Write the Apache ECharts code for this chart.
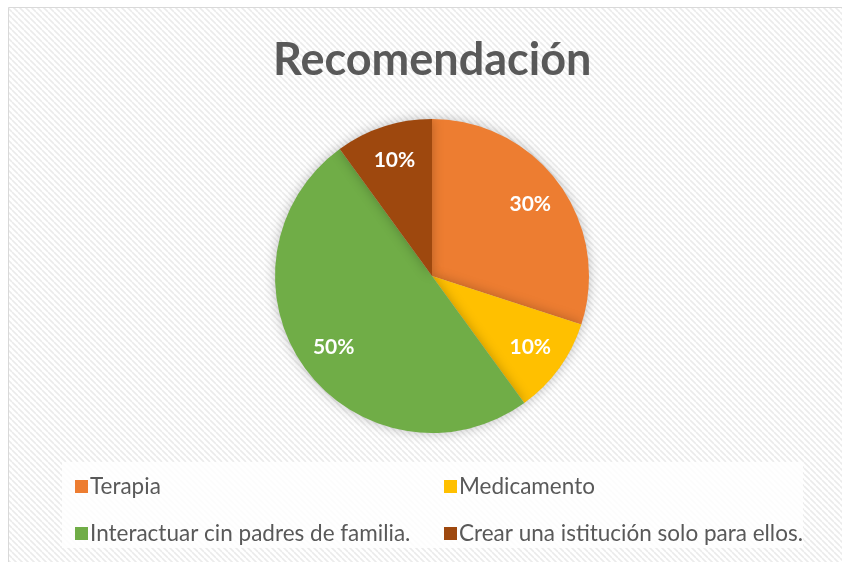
<!DOCTYPE html>
<html>
<head>
<meta charset="utf-8">
<script src="https://cdn.jsdelivr.net/npm/echarts@6/dist/echarts.min.js"></script>
<style>
html, body { margin: 0; padding: 0; background: #fff; }
#chart { width: 842px; height: 562px; }
</style>
</head>
<body>
<div id="chart"></div>
<script>
'use strict';

///// datos /////

const title = 'Recomendación';
const categories = ['Terapia', 'Medicamento', 'Interactuar cin padres de familia.', 'Crear una istitución solo para ellos.'];
const values = [30, 10, 50, 10];
const colors = ['#ED7D31', '#FFC000', '#70AD47', '#9E480E'];

//////////////////////

// fondo rayado
const makeStripes = () => {
  const c = document.createElement('canvas');
  c.width = 6;
  c.height = 6;
  const ctx = c.getContext('2d');
  ctx.fillStyle = '#ffffff';
  ctx.fillRect(0, 0, 6, 6);
  ctx.strokeStyle = '#ebebeb';
  ctx.lineWidth = 1.6;
  ctx.beginPath();
  for (let k = -6; k <= 12; k += 6) {
    ctx.moveTo(k, 0);
    ctx.lineTo(k + 6, 6);
  }
  ctx.stroke();
  return c;
};

const data = categories.map((name, i) => ({ name: name, value: values[i], itemStyle: { color: colors[i] } }));

const center = [432, 276];
const R = 157;
const font = 'Lato, "Open Sans", sans-serif';

const legendText = { fontFamily: font, fontSize: 22.5, color: '#595959', padding: [0, 0, 0, -3] };

const option = {
  backgroundColor: '#ffffff',
  animation: false,
  graphic: [
    {
      type: 'rect', z: -10,
      shape: { x: 8.5, y: 7.5, width: 860, height: 580 },
      style: { fill: { image: makeStripes(), repeat: 'repeat' }, stroke: '#d9d9d9', lineWidth: 1 }
    },
    {
      type: 'rect', z: -5,
      shape: { x: 62, y: 462, width: 741, height: 86 },
      style: { fill: 'rgba(255,255,255,0.85)' }
    }
  ],
  title: {
    text: title,
    left: 268,
    top: 33,
    textStyle: { fontFamily: font, fontSize: 45, fontWeight: 'bold', color: '#595959' }
  },
  legend: [
    {
      data: [categories[0], categories[2]],
      orient: 'vertical',
      left: 70, top: 470,
      itemWidth: 13, itemHeight: 13, itemGap: 24,
      icon: 'rect',
      selectedMode: false,
      textStyle: legendText
    },
    {
      data: [categories[1], categories[3]],
      orient: 'vertical',
      left: 439, top: 470,
      itemWidth: 13, itemHeight: 13, itemGap: 24,
      icon: 'rect',
      selectedMode: false,
      textStyle: legendText
    }
  ],
  series: [
    {
      type: 'pie',
      center: center,
      radius: [0, R],
      startAngle: 90,
      clockwise: true,
      data: data,
      label: { show: false },
      labelLine: { show: false },
      itemStyle: { shadowBlur: 12, shadowColor: 'rgba(0,0,0,0.25)' },
      silent: true
    },
    // etiquetas (serie transparente para ubicar el texto)
    {
      type: 'pie',
      center: center,
      radius: [80, R],
      startAngle: 90,
      clockwise: true,
      data: data.map(d => ({ name: d.name, value: d.value })),
      itemStyle: { color: 'rgba(0,0,0,0)' },
      legendHoverLink: false,
      silent: true,
      label: {
        show: true,
        position: 'inside',
        formatter: p => p.value + '%',
        fontFamily: font,
        fontSize: 21,
        fontWeight: 'bold',
        color: '#ffffff'
      },
      labelLine: { show: false }
    }
  ]
};

const myChart = echarts.init(document.getElementById('chart'));
myChart.setOption(option);
</script>
</body>
</html>
